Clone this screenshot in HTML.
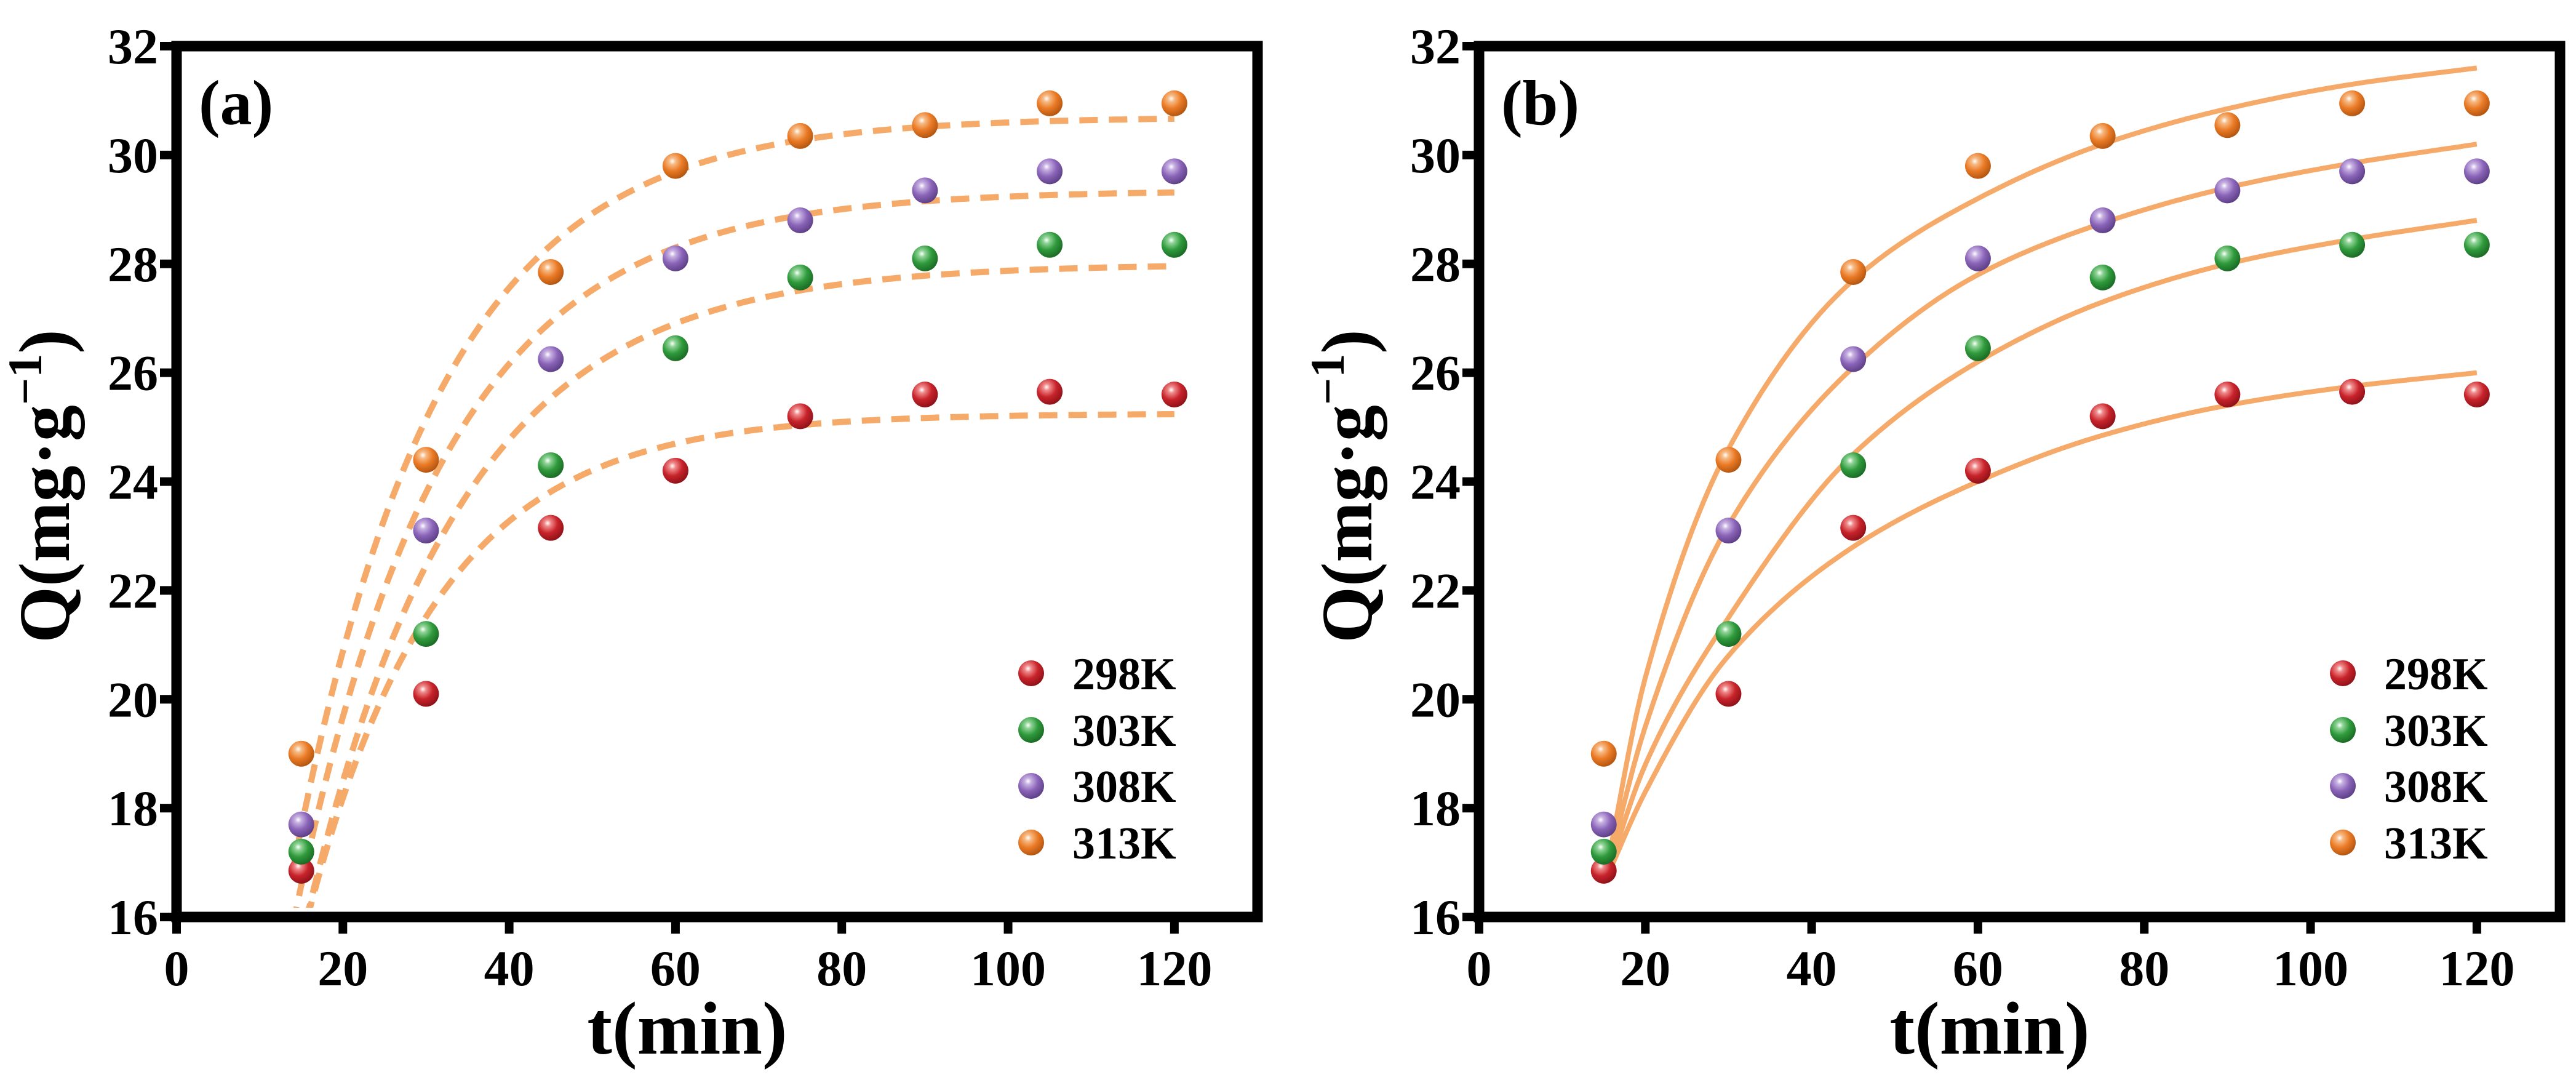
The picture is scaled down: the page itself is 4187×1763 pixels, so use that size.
<!DOCTYPE html>
<html><head><meta charset="utf-8"><style>
html,body{margin:0;padding:0;background:#fff;}
svg{display:block;font-family:"Liberation Serif","Times New Roman",serif;font-weight:bold;}
</style></head><body>
<svg id="chart" xmlns="http://www.w3.org/2000/svg" width="4187" height="1763" viewBox="0 0 4187 1763">
<defs>
<radialGradient id="g-red" cx="0.38" cy="0.32" r="0.7"><stop offset="0" stop-color="#fff"/><stop offset="0.18" stop-color="#f08a8a"/><stop offset="0.55" stop-color="#c8232b"/><stop offset="1" stop-color="#8e1118"/></radialGradient>
<radialGradient id="g-green" cx="0.38" cy="0.32" r="0.7"><stop offset="0" stop-color="#fff"/><stop offset="0.18" stop-color="#8fd496"/><stop offset="0.55" stop-color="#2f9a3c"/><stop offset="1" stop-color="#1a6a24"/></radialGradient>
<radialGradient id="g-purple" cx="0.38" cy="0.32" r="0.7"><stop offset="0" stop-color="#fff"/><stop offset="0.18" stop-color="#c7b0e2"/><stop offset="0.55" stop-color="#8a64b8"/><stop offset="1" stop-color="#5d3f86"/></radialGradient>
<radialGradient id="g-orange" cx="0.38" cy="0.32" r="0.7"><stop offset="0" stop-color="#fff"/><stop offset="0.18" stop-color="#f7bb86"/><stop offset="0.55" stop-color="#ea7a25"/><stop offset="1" stop-color="#b25510"/></radialGradient>
<clipPath id="clip-a"><rect x="287" y="75" width="1757" height="1400"/></clipPath>
<clipPath id="clip-b"><rect x="2404" y="75" width="1757" height="1415"/></clipPath>
</defs>
</svg>
<script>
// ---- data ----
const times = [15, 30, 45, 60, 75, 90, 105, 120];
const seriesNames = ["298K", "303K", "308K", "313K"];
const q298 = [16.85, 20.1, 23.15, 24.2, 25.2, 25.6, 25.65, 25.6];
const q303 = [17.2, 21.2, 24.3, 26.45, 27.75, 28.1, 28.35, 28.35];
const q308 = [17.7, 23.1, 26.25, 28.1, 28.8, 29.35, 29.7, 29.7];
const q313 = [19.0, 24.4, 27.85, 29.8, 30.35, 30.55, 30.95, 30.95];
// panel (a) pseudo-first-order fit parameters
const pfoQe = [25.25, 28.0, 29.35, 30.7];
const pfoK = [0.0637, 0.054, 0.0555, 0.057];
// panel (b) fitted curve values
const fitTimes = [15, 20, 30, 45, 60, 75, 90, 105, 120];
const fit298 = [16.6, 18.3, 20.8, 22.8, 24.0, 24.85, 25.4, 25.75, 26.0];
const fit303 = [16.6, 18.8, 21.5, 24.5, 26.2, 27.3, 28.0, 28.45, 28.8];
const fit308 = [16.6, 19.5, 23.2, 26.1, 27.8, 28.75, 29.4, 29.85, 30.2];
const fit313 = [16.6, 20.4, 24.6, 27.7, 29.2, 30.2, 30.85, 31.3, 31.6];
const xTicks = [0, 20, 40, 60, 80, 100, 120];
const yTicks = [16, 18, 20, 22, 24, 26, 28, 30, 32];

const allQ = [q298, q303, q308, q313];
const allFit = [fit298, fit303, fit308, fit313];
const grads = ["url(#g-red)", "url(#g-green)", "url(#g-purple)", "url(#g-orange)"];
const NS = "http://www.w3.org/2000/svg";
const svg = document.getElementById("chart");
const X_MIN = 0, X_MAX = 130, Y_MIN = 16, Y_MAX = 32;
const PW = 1757, TOP = 75, BOT = 1490;

function mk(tag, attrs, parent) {
  const e = document.createElementNS(NS, tag);
  for (const k in attrs) e.setAttribute(k, attrs[k]);
  (parent || svg).appendChild(e);
  return e;
}

// monotone cubic (Fritsch-Carlson) interpolation in data space
function monotone(xs, ys) {
  const n = xs.length, d = [], m = new Array(n);
  for (let i = 0; i < n - 1; i++) d.push((ys[i + 1] - ys[i]) / (xs[i + 1] - xs[i]));
  m[0] = d[0]; m[n - 1] = d[n - 2];
  for (let i = 1; i < n - 1; i++) {
    if (d[i - 1] * d[i] <= 0) m[i] = 0;
    else {
      const w1 = 2 * (xs[i + 1] - xs[i]) + (xs[i] - xs[i - 1]);
      const w2 = (xs[i + 1] - xs[i]) + 2 * (xs[i] - xs[i - 1]);
      m[i] = (w1 + w2) / (w1 / d[i - 1] + w2 / d[i]);
    }
  }
  return function (x) {
    let i = 0;
    while (i < n - 2 && x > xs[i + 1]) i++;
    const h = xs[i + 1] - xs[i], t = (x - xs[i]) / h;
    const h00 = 2 * t * t * t - 3 * t * t + 1, h10 = t * t * t - 2 * t * t + t;
    const h01 = -2 * t * t * t + 3 * t * t, h11 = t * t * t - t * t;
    return h00 * ys[i] + h10 * h * m[i] + h01 * ys[i + 1] + h11 * h * m[i + 1];
  };
}

function panel(x0, label, kind, legX, legTextX) {
  const sx = v => x0 + (v - X_MIN) / (X_MAX - X_MIN) * PW;
  const sy = v => BOT - (v - Y_MIN) / (Y_MAX - Y_MIN) * (BOT - TOP);
  const g = mk("g", {});
  
  

  const cg = mk("g", { "clip-path": kind === "a" ? "url(#clip-a)" : "url(#clip-b)" }, g);
  for (let s = 0; s < 4; s++) {
    const pts = [];
    if (kind === "a") {
      for (let t = 14; t <= 120.01; t += 0.5) pts.push([sx(t), sy(pfoQe[s] * (1 - Math.exp(-pfoK[s] * t)))]);
    } else {
      const f = monotone(fitTimes, allFit[s]);
      for (let t = fitTimes[0] + 0.5; t <= 120.01; t += 0.5) pts.push([sx(t), sy(f(t))]);
    }
    const d = "M" + pts.map(p => p[0].toFixed(1) + "," + p[1].toFixed(1)).join(" L");
    const p = mk("path", { d: d, fill: "none", stroke: "#f5aa6a", "stroke-width": kind === "a" ? 10 : 8,
      "stroke-linecap": "butt", "stroke-dasharray": kind === "a" ? "30 18" : "none" }, cg);
    
    
  }
  for (let s = 0; s < 4; s++) {
    for (let i = 0; i < times.length; i++) {
      const c = mk("circle", { cx: sx(times[i]), cy: sy(allQ[s][i]), r: 21, fill: grads[s] }, g);
      
      
    }
  }
  const fr = mk("rect", { x: x0, y: TOP, width: PW, height: BOT - TOP, fill: "none", stroke: "#000", "stroke-width": 17 }, g);
  
  
  xTicks.forEach(v => {
    const t = mk("line", { x1: sx(v), x2: sx(v), y1: BOT, y2: BOT + 27, stroke: "#000", "stroke-width": 14 }, g);
    
    
    const tl = mk("text", { x: sx(v), y: 1601, "font-size": 82, "text-anchor": "middle" }, g);
    tl.textContent = v;
    
    
  });
  yTicks.forEach(v => {
    const t = mk("line", { x1: x0 - 27, x2: x0, y1: sy(v), y2: sy(v), stroke: "#000", "stroke-width": 14 }, g);
    
    
    const tl = mk("text", { x: x0 - 30, y: sy(v) + 28, "font-size": 82, "text-anchor": "end" }, g);
    tl.textContent = v;
    
    
  });
  const xt = mk("text", { x: x0 + 830, y: 1712, "font-size": 122, "text-anchor": "middle" }, g);
  xt.textContent = "t(min)";
  
  
  const yt = mk("text", { x: 0, y: 0, "font-size": 118, "text-anchor": "middle", transform: "translate(" + (x0 - 175) + ",790) rotate(-90)" }, g);
  
  
  yt.appendChild(document.createTextNode("Q(mg·g"));
  const sup = mk("tspan", { dy: -45, "font-size": 78 }, yt);
  sup.textContent = "−1";
  const cl = mk("tspan", { dy: 45 }, yt);
  cl.textContent = ")";
  const pl = mk("text", { x: x0 + 36, y: 202, "font-size": 104 }, g);
  pl.textContent = "(" + label + ")";
  
  
  const legY = [1094, 1186, 1277, 1369];
  for (let s = 0; s < 4; s++) {
    const lg = mk("g", {}, g);
    
    
    mk("circle", { cx: legX, cy: legY[s], r: 21, fill: grads[s] }, lg);
    const lt = mk("text", { x: legTextX, y: legY[s] + 26, "font-size": 74 }, lg);
    lt.textContent = seriesNames[s];
  }
}

panel(287, "a", "a", 1676, 1743);
panel(2404, "b", "b", 3808, 3875);
</script>
</body></html>
